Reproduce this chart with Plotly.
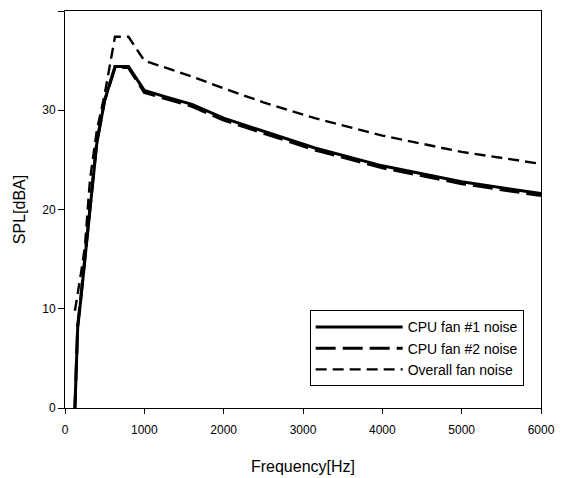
import plotly.graph_objects as go

freq_hz = [125, 160, 200, 250, 315, 400, 500, 630, 800, 1000, 1250, 1600, 2000, 2500, 3150, 4000, 5000, 6000]
cpu_fan1 = [0.0, 8.1, 11.0, 14.8, 20.3, 26.6, 31.0, 34.4, 34.4, 32.0, 31.4, 30.6, 29.2, 27.9, 26.2, 24.4, 22.8, 21.6]
cpu_fan2 = [0.0, 8.3, 11.2, 15.0, 20.5, 26.8, 31.0, 34.3, 34.3, 31.8, 31.2, 30.4, 29.0, 27.7, 26.0, 24.2, 22.6, 21.4]
overall = [9.8, 11.4, 13.5, 16.2, 23.0, 27.9, 31.6, 37.4, 37.4, 35.0, 34.3, 33.4, 32.2, 30.8, 29.2, 27.45, 25.8, 24.6]

series_names = ["CPU fan #1 noise", "CPU fan #2 noise", "Overall fan noise"]
x_ticks = [0, 1000, 2000, 3000, 4000, 5000, 6000]
y_ticks = [0, 10, 20, 30, 40]

FONT = "Liberation Sans, Arial, sans-serif"

fig = go.Figure()
fig.add_trace(go.Scatter(x=freq_hz, y=cpu_fan1, mode="lines", name=series_names[0],
                         line=dict(color="black", width=3, dash="solid")))
fig.add_trace(go.Scatter(x=freq_hz, y=cpu_fan2, mode="lines", name=series_names[1],
                         line=dict(color="black", width=3, dash="20px,7px")))
fig.add_trace(go.Scatter(x=freq_hz, y=overall, mode="lines", name=series_names[2],
                         line=dict(color="black", width=2.4, dash="11px,6px")))

# the page body has an 8px margin, so the figure is sized to fit the window
fig.update_layout(
    width=557, height=470,
    margin=dict(l=57, r=24, t=3, b=70, autoexpand=False),
    paper_bgcolor="white", plot_bgcolor="white",
    font=dict(family=FONT, color="black", size=12),
    showlegend=True,
    legend=dict(x=0.514, y=0.246, xanchor="left", yanchor="top",
                bgcolor="white", bordercolor="black", borderwidth=1,
                font=dict(family=FONT, size=14, color="black"),
                itemwidth=87, tracegroupgap=0),
    xaxis=dict(range=[0, 6000], tickvals=x_ticks, ticks="outside", ticklen=5,
               tickcolor="black", showline=True, linecolor="black", linewidth=1,
               mirror=True, showgrid=False, zeroline=False, automargin=False,
               ticklabelstandoff=6,
               tickfont=dict(family=FONT, size=12, color="black"),
               title=dict(text="Frequency[Hz]", font=dict(family=FONT, size=16, color="black"), standoff=24)),
    yaxis=dict(range=[0, 40], tickvals=y_ticks, ticks="outside", ticklen=6,
               tickcolor="black", showline=True, linecolor="black", linewidth=1,
               mirror=True, showgrid=False, zeroline=False, automargin=False,
               tickfont=dict(family=FONT, size=12, color="black"),
               title=dict(text="SPL[dBA]", font=dict(family=FONT, size=16, color="black"), standoff=12)),
)

fig.write_html("out.html")
